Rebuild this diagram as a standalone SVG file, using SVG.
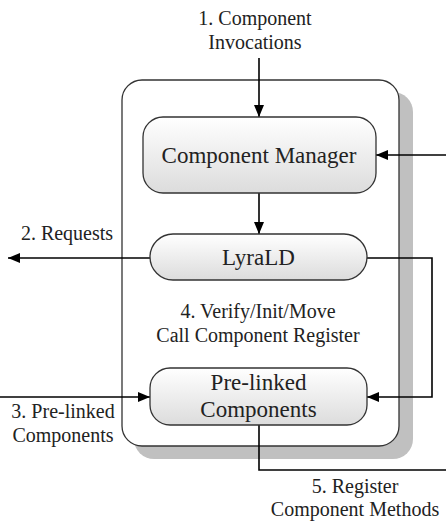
<svg xmlns="http://www.w3.org/2000/svg" width="446" height="529" viewBox="0 0 446 529">
<defs>
<linearGradient id="g" x1="0" y1="0" x2="0" y2="1">
<stop offset="0" stop-color="#ffffff"/>
<stop offset="1" stop-color="#dcdcdc"/>
</linearGradient>
<marker id="ah" markerWidth="12" markerHeight="10" refX="12" refY="5" orient="auto" markerUnits="userSpaceOnUse">
<path d="M0,0 L12,5 L0,10 Z" fill="#000"/>
</marker>
</defs>
<style>
.box{fill:url(#g);stroke:#333;stroke-width:1.3}
.t{font-family:"Liberation Serif","Times New Roman",serif;fill:#222;text-anchor:middle}
.bt{font-size:23px}
.lt{font-size:20px}
.c{fill:none;stroke:#000;stroke-width:1.6}
</style>
<g id="container">
<rect x="134" y="92" width="279" height="367" rx="20" fill="#c0c0c0"/>
<rect x="122" y="80" width="277" height="366" rx="20" fill="#fff" stroke="#333" stroke-width="1.3"/>
</g>
<g id="connectors">
<line class="c" x1="259" y1="58" x2="259" y2="117" marker-end="url(#ah)"/>
<line class="c" x1="446" y1="155" x2="376" y2="155" marker-end="url(#ah)"/>
<line class="c" x1="259" y1="193" x2="259" y2="234" marker-end="url(#ah)"/>
<line class="c" x1="150" y1="258" x2="8" y2="258" marker-end="url(#ah)"/>
<polyline class="c" points="367,258 432,258 432,397 367,397" marker-end="url(#ah)"/>
<line class="c" x1="0" y1="397" x2="150" y2="397" marker-end="url(#ah)"/>
<polyline class="c" points="259,425 259,470 446,470"/>
</g>
<g id="component-manager">
<rect class="box" x="143" y="117" width="233" height="76" rx="20"/>
<text class="t bt" x="259" y="163">Component Manager</text>
</g>
<g id="lyrald">
<rect class="box" x="150" y="234" width="217" height="46" rx="23"/>
<text class="t bt" x="258.5" y="265">LyraLD</text>
</g>
<g id="prelinked">
<rect class="box" x="150" y="368" width="217" height="57" rx="20"/>
<text class="t bt" x="258.5" y="390">Pre-linked</text>
<text class="t bt" x="258.5" y="417">Components</text>
</g>
<g id="labels">
<text class="t lt" x="255" y="25">1. Component</text>
<text class="t lt" x="255" y="49">Invocations</text>
<text class="t lt" x="67" y="240">2. Requests</text>
<text class="t lt" x="258" y="318">4. Verify/Init/Move</text>
<text class="t lt" x="258" y="342">Call Component Register</text>
<text class="t lt" x="63" y="418">3. Pre-linked</text>
<text class="t lt" x="63" y="442">Components</text>
<text class="t lt" x="355" y="493">5. Register</text>
<text class="t lt" x="355" y="516">Component Methods</text>
</g>
</svg>
